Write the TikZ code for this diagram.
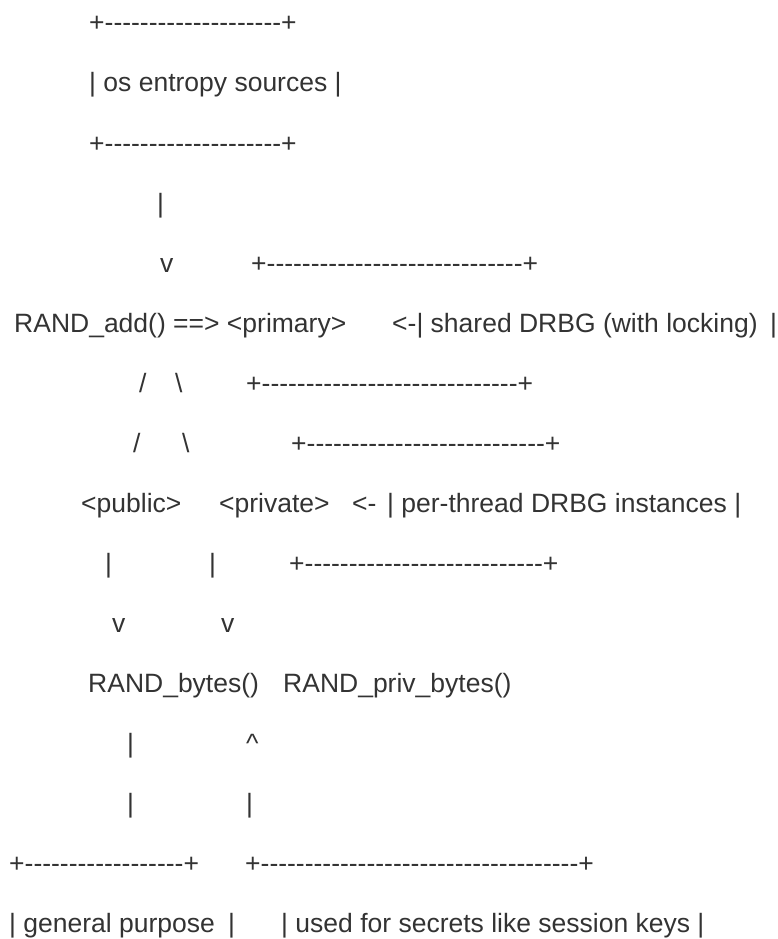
\documentclass[tikz,border=0pt]{standalone}
\usepackage{fontspec}
\setmainfont{Liberation Sans}[Ligatures=TeXOff]

\tikzset{ascii/.style={anchor=base west, inner sep=0pt, text=black!80, font=\fontsize{26.5}{30}\selectfont}}
\newcommand{\dashrun}[1]{+\foreach \n in {1,...,#1}{-}+}

\begin{document}
\begin{tikzpicture}[x=1pt, y=-1pt]
\useasboundingbox (0,0) rectangle (778,939);
% os entropy sources
\node[ascii] (osTop) at (89,32) {\dashrun{20}};
\node[ascii] (os) at (89,92) {| os entropy sources |};
\node[ascii] (osBot) at (89,152) {\dashrun{20}};
\node[ascii] (osBar) at (157,212) {|};
\node[ascii] (osV) at (160,272) {v};
% primary + shared DRBG
\node[ascii] (sharedTop) at (251,272) {\dashrun{29}};
\node[ascii] (primary) at (14,332) {RAND\_add() ==> <primary>};
\node[ascii] (shared) at (392,332) {<-| shared DRBG (with locking)};
\node[ascii] (sharedEnd) at (770,332) {|};
\node[ascii] (slashA) at (139,392) {/};
\node[ascii] (bslashA) at (175,392) {\textbackslash};
\node[ascii] (sharedBot) at (246,392) {\dashrun{29}};
% public / private + per-thread DRBG
\node[ascii] (slashB) at (133,452) {/};
\node[ascii] (bslashB) at (182,452) {\textbackslash};
\node[ascii] (threadTop) at (291,452) {\dashrun{27}};
\node[ascii] (public) at (81,512) {<public>};
\node[ascii] (private) at (219,512) {<private>};
\node[ascii] (arrow) at (352,512) {<-};
\node[ascii] (thread) at (387,512) {| per-thread DRBG instances |};
\node[ascii] (pubBar) at (105,572) {|};
\node[ascii] (privBar) at (209,572) {|};
\node[ascii] (threadBot) at (289,572) {\dashrun{27}};
\node[ascii] (pubV) at (112,632) {v};
\node[ascii] (privV) at (221,632) {v};
% RAND_bytes
\node[ascii] (bytes) at (88,692) {RAND\_bytes()};
\node[ascii] (privBytes) at (283,692) {RAND\_priv\_bytes()};
\node[ascii] (genBarA) at (127,752) {|};
\node[ascii] (secUp) at (246,752) {\textasciicircum};
\node[ascii] (genBarB) at (127,812) {|};
\node[ascii] (secBar) at (246,812) {|};
% usage boxes
\node[ascii] (genTop) at (9,872) {\dashrun{18}};
\node[ascii] (secTop) at (245,872) {\dashrun{36}};
\node[ascii] (gen) at (9,932) {| general purpose};
\node[ascii] (genEnd) at (228,932) {|};
\node[ascii] (sec) at (281,932) {| used for secrets like session keys |};
\end{tikzpicture}
\end{document}
